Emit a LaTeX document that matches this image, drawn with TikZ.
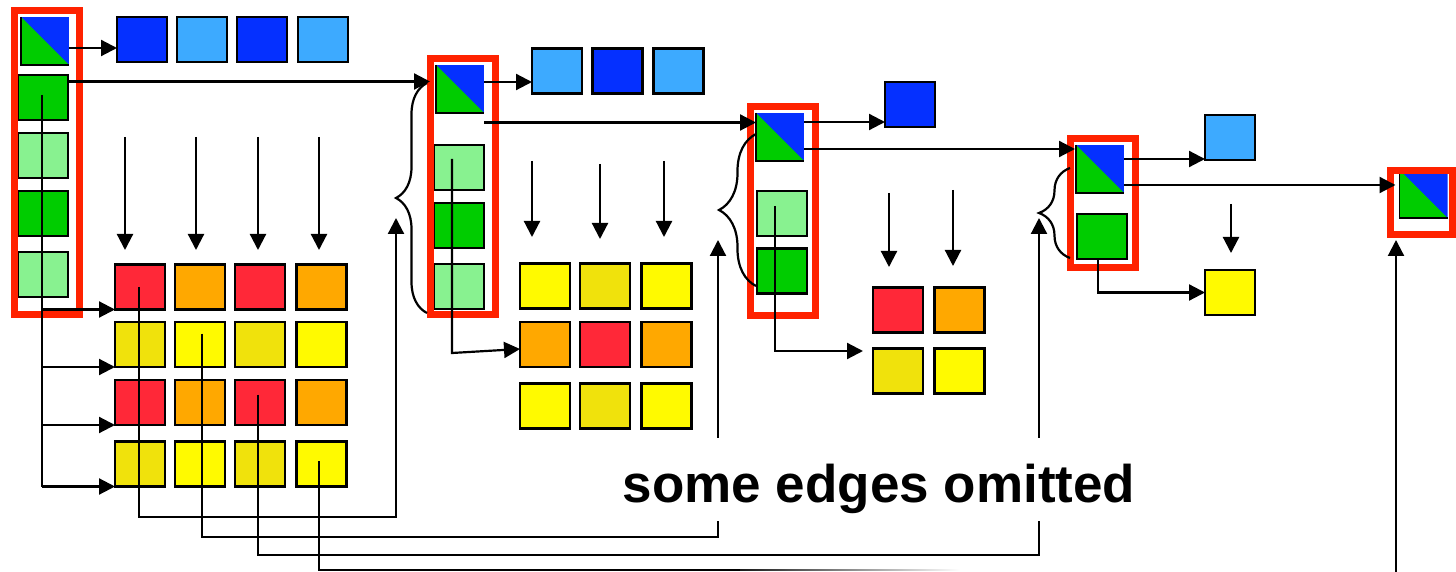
\documentclass[tikz,border=0pt]{standalone}
\usepackage{fontspec}
\setmainfont{Liberation Sans}
\usetikzlibrary{arrows.meta,decorations.pathreplacing,calc}
\definecolor{cdblue}{RGB}{5,48,255}
\definecolor{clblue}{RGB}{61,170,255}
\definecolor{cgreen}{RGB}{0,204,0}
\definecolor{clgreen}{RGB}{136,242,144}
\definecolor{cred}{RGB}{255,40,56}
\definecolor{corange}{RGB}{255,168,0}
\definecolor{cyellow}{RGB}{255,250,0}
\definecolor{cdyellow}{RGB}{240,226,12}
\definecolor{cframe}{RGB}{255,34,0}
\begin{document}
\begin{tikzpicture}[x=0.5pt,y=-0.5pt,
  box/.style={draw=black, line width=1.1pt, minimum width=25pt, minimum height=22.5pt, inner sep=0pt, outer sep=0pt},
  tri/.style={minimum width=24pt, minimum height=24pt, inner sep=0pt, outer sep=0pt,
    path picture={
      \fill[cdblue] (path picture bounding box.north west) rectangle (path picture bounding box.south east);
      \fill[cgreen] (path picture bounding box.north west) -- (path picture bounding box.south west) -- (path picture bounding box.south east) -- cycle;}},
  frame/.style={draw=cframe, line width=3.5pt},
  conn/.style={line width=1.1pt},
  arr/.style={conn, -{Triangle[length=8pt,width=8pt]}},
  curly/.style={line width=1.1pt, decorate, decoration={brace, amplitude=#1}}
]
\useasboundingbox (0,0) rectangle (1456,572);

% ---------- column 1 ----------
\node[tri] (t1) at (45,41) {};
\node[box,fill=cgreen]  (g1a) at (43,97.5) {};
\node[box,fill=clgreen] (g1b) at (43,155.5) {};
\node[box,fill=cgreen]  (g1c) at (43,213.5) {};
\node[box,fill=clgreen] (g1d) at (43,274.5) {};
\node[box,fill=cdblue] (b11) at (142,39.5) {};
\node[box,fill=clblue] (b12) at (202,39.5) {};
\node[box,fill=cdblue] (b13) at (262,39.5) {};
\node[box,fill=clblue] (b14) at (323,39.5) {};
\foreach \y/\r/\ca/\cb in {287/1/cred/corange, 344.5/2/cdyellow/cyellow, 402.5/3/cred/corange, 464/4/cdyellow/cyellow}{
  \node[box,fill=\ca] (m\r1) at (140,\y) {};
  \node[box,fill=\cb] (m\r2) at (200,\y) {};
  \node[box,fill=\ca] (m\r3) at (260,\y) {};
  \node[box,fill=\cb] (m\r4) at (321.5,\y) {};
}

% ---------- column 2 ----------
\node[tri] (t2) at (460,89) {};
\node[box,fill=clgreen] (l2a) at (459,167.5) {};
\node[box,fill=cgreen]  (g2b) at (459,225.5) {};
\node[box,fill=clgreen] (l2c) at (459,286.5) {};
\node[box,fill=clblue] (b21) at (557,71) {};
\node[box,fill=cdblue] (b22) at (617.5,71) {};
\node[box,fill=clblue] (b23) at (678.5,71) {};
\foreach \y/\r/\ca/\cb in {286/1/cyellow/cdyellow, 344.5/2/corange/cred, 406/3/cyellow/cdyellow}{
  \node[box,fill=\ca] (n\r1) at (545,\y) {};
  \node[box,fill=\cb] (n\r2) at (605,\y) {};
  \node[box,fill=\ca] (n\r3) at (666.5,\y) {};
}

% ---------- column 3 ----------
\node[tri] (t3) at (780,137) {};
\node[box,fill=clgreen] (l3a) at (782,213.5) {};
\node[box,fill=cgreen]  (g3b) at (782,271) {};
\node[box,fill=cdblue] (b31) at (910,104.5) {};
\node[box,fill=cred]     (q11) at (898,310) {};
\node[box,fill=corange]  (q12) at (959.5,310) {};
\node[box,fill=cdyellow] (q21) at (898,371) {};
\node[box,fill=cyellow]  (q22) at (959.5,371) {};

% ---------- column 4 ----------
\node[tri] (t4) at (1100,169) {};
\node[box,fill=cgreen] (g4a) at (1102,236.5) {};
\node[box,fill=clblue] (b41) at (1230,137.5) {};
\node[box,fill=cyellow] (y41) at (1230,292.5) {};

% ---------- column 5 ----------
\node[tri] (t5) at (1423.5,194) {};

\foreach \t in {t1,t2,t3,t4,t5}
  \draw[line width=0.9pt] (\t.north west) -- (\t.south west) -- (\t.south east);

% ---------- red frames ----------
\draw[frame] (14.5,10.5) rectangle (79.5,314.5);
\draw[frame] (430.5,58.5) rectangle (495.5,314.5);
\draw[frame] (750.5,106.5) rectangle (815.5,315.5);
\draw[frame] (1070.5,138.5) rectangle (1135.5,267.5);
\draw[frame] (1390.5,170.5) rectangle (1452.5,234.5);

% ---------- free end points ----------
\coordinate (up2) at (396,218);
\coordinate (up3) at (718,240);
\coordinate (up4) at (1039,218);
\coordinate (up5) at (1396,240);
\coordinate (bot5) at (1396,572);

% ---------- connectors column 1 ----------
\draw[arr] (t1.east|-0,48) -- (b11.west|-0,48);
\draw[arr, shorten >=3pt] (g1a.east|-0,81.5) -- (t2.west|-0,81.5);
\foreach \x in {125,196,258,319}
  \draw[arr] (\x,137) -- (\x,250);
\draw[conn] ($(g1a.center)+(-1,-2.5)$) -- ($(g1a.center |- m41.south)+(-1,0)$);
\foreach \r in {1,2,3,4}
  \draw[arr] ($(g1a.center |- m\r1.south)+(-1,0)$) -- (m\r1.south west);
\draw[arr] ($(m11.center)+(-1,0)$) coordinate (s1) -- (s1 |- 0,517) -| (up2);
\draw[arr] ($(m22.center)+(2,-11)$) coordinate (s2) -- (s2 |- 0,537) -| (up3);
\draw[arr] ($(m33.center)+(-2,-8)$) coordinate (s3) -- (s3 |- 0,555) -| (up4);
\draw[conn] ($(m44.center)+(-2.5,-3)$) coordinate (s4) -- (s4 |- 0,570) -- (741,570);
\shade[left color=black!90, right color=white] (740,569.05) rectangle (960,570.95);

% ---------- connectors column 2 ----------
\draw[arr] (t2.east|-0,82) -- (b21.west|-0,82);
\draw[arr] (t2.east|-0,122.5) -- (t3.west|-0,122.5);
\draw[arr] (532,161) -- (532,237);
\draw[arr] (600,164) -- (600,239);
\draw[arr] (664,161) -- (664,237);
\draw[arr] ($(l2a.center)+(-7,-8.5)$) coordinate (s5) -- (s5 |- 0,353) -- ($(n21.west)+(0,4.5)$);
\draw[curly=15.5pt] (427,313) -- (427,83);

% ---------- connectors column 3 ----------
\draw[arr] (t3.east|-0,122) -- (b31.west|-0,122);
\draw[arr, shorten >=0.5pt] (t3.east|-0,149) -- (t4.west|-0,149);
\draw[arr] (889,193) -- (889,267);
\draw[arr] (953,190) -- (953,266);
\draw[arr, shorten >=5pt] ($(l3a.center)+(-7,-7.5)$) coordinate (s6) |- (q21.west|-0,351);
\draw[curly=18.5pt] (756,286) -- (756,134);

% ---------- connectors column 4 ----------
\draw[arr] (t4.east|-0,159) -- (b41.west|-0,159);
\draw[arr, shorten >=2pt] (t4.east|-0,185) -- (t5.west|-0,185);
\draw[arr] (1231,204) -- (1231,253);
\draw[arr] ($(g4a.south)+(-4,0)$) |- (y41.west);
\draw[curly=15.5pt] (1070,258) -- (1070,168);

% ---------- column 5 ----------
\draw[arr] (bot5) -- (up5);

% ---------- label ----------
\node[fill=white, inner sep=0pt, text height=32pt, text depth=9.5pt, anchor=base,
      font=\fontsize{26.5pt}{30pt}\selectfont\bfseries] (lbl) at (879,502) {some edges omitted};
\end{tikzpicture}
\end{document}
